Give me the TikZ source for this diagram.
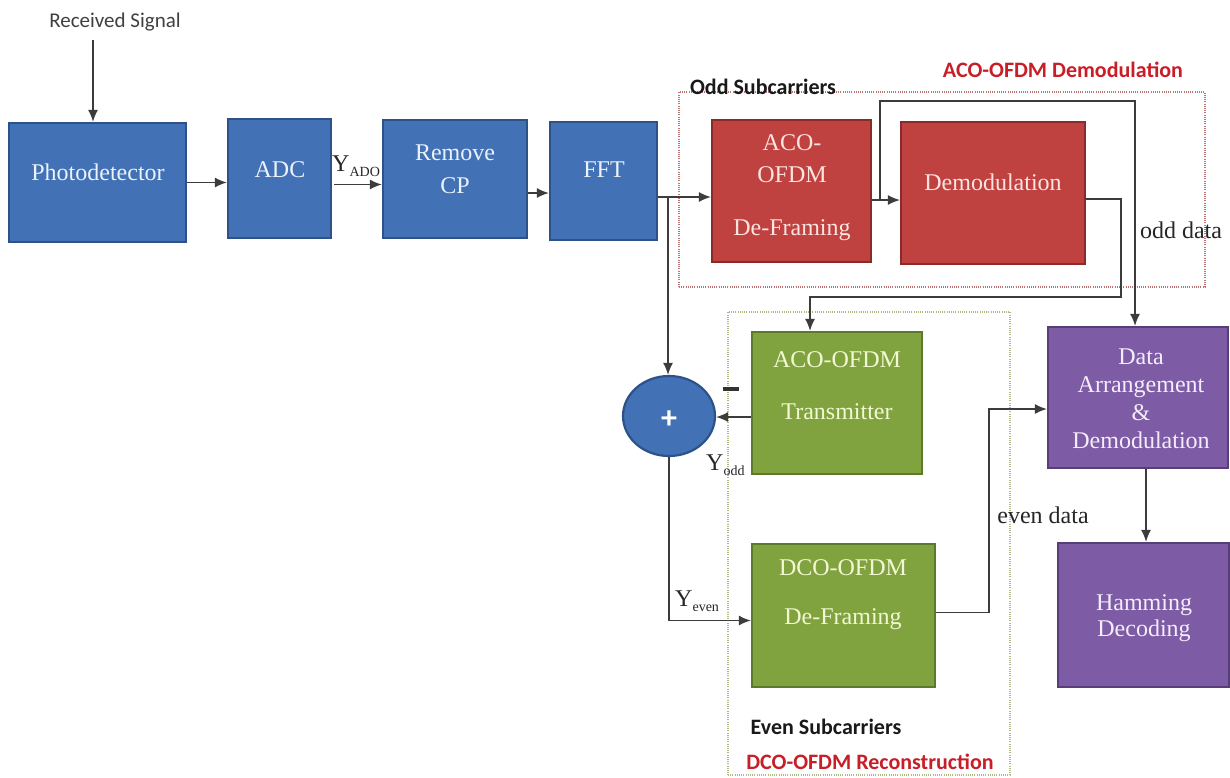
\documentclass[tikz,border=0pt]{standalone}
\usepackage{fontspec}
\setmainfont{Liberation Serif}
\newfontfamily\labfont{Carlito}
\usetikzlibrary{arrows.meta,shapes.geometric,fit}
\definecolor{bluefill}{RGB}{66,114,181}
\definecolor{blueedge}{RGB}{44,82,135}
\definecolor{bluetxt}{RGB}{235,242,252}
\definecolor{redfill}{RGB}{192,66,64}
\definecolor{rededge}{RGB}{140,42,42}
\definecolor{redtxt}{RGB}{252,228,224}
\definecolor{greenfill}{RGB}{128,163,64}
\definecolor{greenedge}{RGB}{92,122,42}
\definecolor{greentxt}{RGB}{242,248,210}
\definecolor{purplefill}{RGB}{125,92,165}
\definecolor{purpleedge}{RGB}{88,62,120}
\definecolor{purpletxt}{RGB}{244,236,250}
\definecolor{lineclr}{RGB}{60,60,60}
\definecolor{redlab}{RGB}{200,30,40}
\definecolor{reddot}{RGB}{190,115,115}
\definecolor{greendot}{RGB}{170,188,130}
\tikzset{
  blk/.style={rectangle, line width=2.2pt, inner sep=0pt},
  bluebox/.style={blk, fill=bluefill, draw=blueedge},
  redbox/.style={blk, fill=redfill, draw=rededge},
  greenbox/.style={blk, fill=greenfill, draw=greenedge},
  purplebox/.style={blk, fill=purplefill, draw=purpleedge},
  boxtxt/.style={align=center, inner sep=0pt, font=\fontsize{24}{28}\selectfont},
  region/.style={rectangle, inner sep=0pt, line width=1.3pt, dash pattern=on 1pt off 1.2pt},
  sanslab/.style={inner sep=0pt, font=\labfont\fontsize{22}{26}\selectfont},
  seriflab/.style={inner sep=0pt, font=\fontsize{24}{28}\selectfont, text=black!85},
  conn/.style={draw=lineclr, line width=1.5pt, -{Latex[length=12pt,width=10pt]}},
}
\begin{document}
\begin{tikzpicture}[x=1pt,y=-1pt]
\useasboundingbox (0,0) rectangle (1230,777);
\fill[white] (0,0) rectangle (1230,777);

% regions
\node[region, draw=reddot, fit={(679,92) (1205,287)}] (oddreg) {};
\node[region, draw=greendot, fit={(728,312) (1010,775)}] (evenreg) {};

% boxes
\node[bluebox, fit={(9,123) (186,242)}] (pd) {};
\node[bluebox, fit={(228,119) (331,238)}] (adc) {};
\node[bluebox, fit={(383,120) (527,238)}] (rcp) {};
\node[bluebox, fit={(550,122) (657,240)}] (fft) {};
\node[redbox, fit={(712,120) (871,262)}] (acodf) {};
\node[redbox, fit={(901,122) (1085,264)}] (dem) {};
\node[greenbox, fit={(752,332) (922,474)}] (tx) {};
\node[greenbox, fit={(752,544) (935,687)}] (dco) {};
\node[purplebox, fit={(1048,327) (1228,468)}] (da) {};
\node[purplebox, fit={(1058,543) (1229,687)}] (hd) {};
\node[ellipse, fill=bluefill, draw=blueedge, line width=2.2pt, minimum width=92pt, minimum height=80pt, inner sep=0pt] (sum) at (669,416) {};

% box texts
\node[boxtxt, text=bluetxt] (pdt) at (98,172) {Photodetector};
\node[boxtxt, text=bluetxt] (adct) at (280,170) {ADC};
\node[boxtxt, text=bluetxt, font=\fontsize{24}{33}\selectfont] (rcpt) at (455,169) {Remove\\CP};
\node[boxtxt, text=bluetxt] (fftt) at (604,170) {FFT};
\node[boxtxt, text=redtxt, font=\fontsize{24}{32}\selectfont] (acodft) at (792,188) {ACO-\\OFDM\\[21pt]De-Framing};
\node[boxtxt, text=redtxt] (demt) at (993,182) {Demodulation};
\node[boxtxt, text=greentxt, font=\fontsize{24}{52}\selectfont] (txt) at (837,386) {ACO-OFDM\\Transmitter};
\node[boxtxt, text=greentxt, font=\fontsize{24}{49}\selectfont] (dcot) at (843,595) {DCO-OFDM\\De-Framing};
\node[boxtxt, text=purpletxt] (dat) at (1141,399) {Data\\Arrangement\\\&\\Demodulation};
\node[boxtxt, text=purpletxt, font=\fontsize{24}{26}\selectfont] (hdt) at (1144,618) {Hamming\\Decoding};
\node[inner sep=0pt, text=white, font=\labfont\bfseries\fontsize{32}{32}\selectfont] (sumt) at (669,420) {+};

% labels
\node[sanslab, text=black!75, font=\labfont\fontsize{21}{24}\selectfont] (rsl) at (115,22) {Received Signal};
\node[sanslab, font=\labfont\bfseries\fontsize{22}{24}\selectfont, text=black!90] (oddl) at (763,87) {Odd Subcarriers};
\node[sanslab, font=\labfont\bfseries\fontsize{22}{24}\selectfont, text=redlab] (acol) at (1063,70) {ACO-OFDM Demodulation};
\node[sanslab, font=\labfont\bfseries\fontsize{22}{24}\selectfont, text=black!90] (evl) at (826,727) {Even Subcarriers};
\node[sanslab, font=\labfont\bfseries\fontsize{22}{24}\selectfont, text=redlab] (dcol) at (870,762) {DCO-OFDM Reconstruction};
\node[seriflab] (oddd) at (1181,230) {odd data};
\node[seriflab] (evend) at (1043,515) {even data};
\node[seriflab, anchor=west] (yado) at (332,166) {Y{\fontsize{14}{14}\selectfont\raisebox{-5pt}{ADO}}};
\node[seriflab, anchor=west] (yodd) at (706,465) {Y{\fontsize{14}{14}\selectfont\raisebox{-5pt}{odd}}};
\node[seriflab, anchor=west] (yeven) at (675,601) {Y{\fontsize{14}{14}\selectfont\raisebox{-5pt}{even}}};
\node[inner sep=0pt, text=black!80] (minus) at (731,389) {\rule{16pt}{4.5pt}};

% connectors
\coordinate (rs) at (93,40);
\draw[conn] (rs) -- (rs |- pd.north);
\draw[conn] (pd.east) -- (pd.east -| adc.west);
\draw[conn] ([xshift=2pt,yshift=-6pt]adc.east) -- ([yshift=-6pt]adc.east -| rcp.west);
\draw[conn] ([yshift=-14pt]rcp.east) -- ([yshift=-14pt]rcp.east -| fft.west);
\draw[conn] ([yshift=-16pt]fft.east) -- ([yshift=-16pt]fft.east -| acodf.west);
\coordinate (br) at (668,197);
\draw[conn] (br) -- (br |- sum.north);
\draw[conn] ([yshift=-9pt]acodf.east) -- ([yshift=-9pt]acodf.east -| dem.west);
\coordinate (op) at (880,200);
\coordinate (oddtop) at (1135,101);
\draw[conn] (op) |- (oddtop) -- (oddtop |- da.north);
\coordinate (c1) at (1121,297);
\draw[conn] ([yshift=-6pt]dem.east) -| (c1) -| ([xshift=-27pt]tx.north);
\draw[conn] ([yshift=-14pt]tx.west) -- ([yshift=-14pt]tx.west -| sum.east);
\draw[conn] (sum.south) |- ([yshift=-5pt]dco.west);
\coordinate (ev) at (989,409);
\draw[conn] ([yshift=3pt]dco.east) -| (ev) -- (ev -| da.west);
\draw[conn] ([xshift=8pt]da.south) -- ([xshift=8pt]da.south |- hd.north);
\end{tikzpicture}
\end{document}
